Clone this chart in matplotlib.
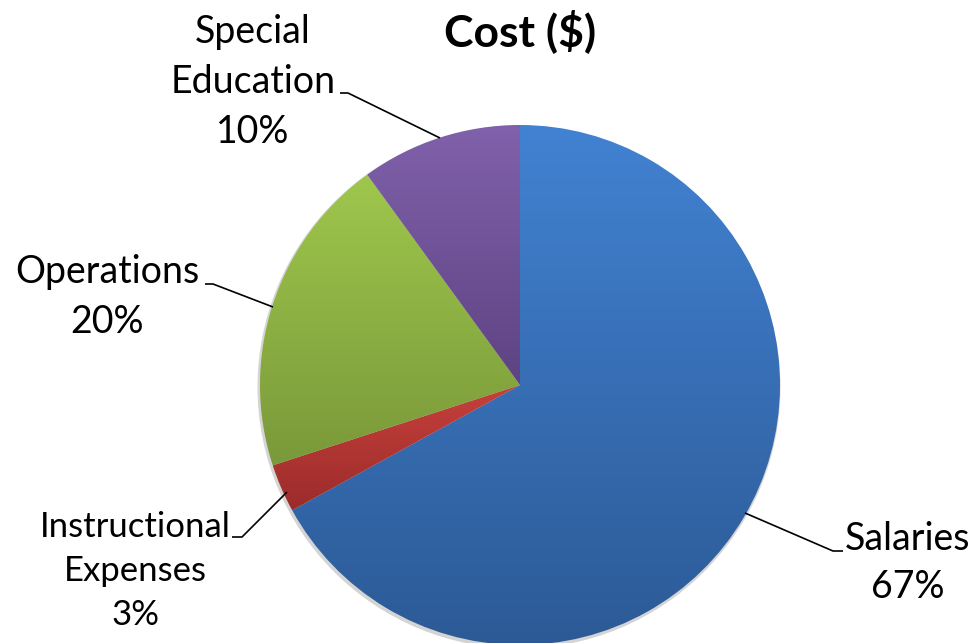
import numpy as np
import matplotlib
matplotlib.use("Agg")
import matplotlib.pyplot as plt
from matplotlib.colors import to_rgb
from matplotlib.patches import Circle

# ---- data ----
title = "Cost ($)"
categories = ["Salaries", "Instructional Expenses", "Operations", "Special Education"]
label_lines = [["Salaries"], ["Instructional", "Expenses"], ["Operations"], ["Special", "Education"]]
values = [67, 3, 20, 10]
top_colors = ["#4282d2", "#c8403c", "#9fc74c", "#8061ab"]
bottom_colors = ["#2c5a96", "#9a2c2a", "#7a993a", "#5e4382"]

W, H = 980, 643
fig = plt.figure(figsize=(W / 100, H / 100), dpi=100)
ax = fig.add_axes([0, 0, 1, 1])
FONT = "Lato"

def py(y):  # pixel row -> data y
    return H - y

cx, cy, R = 520, py(385), 260

# faint shadow
ax.add_patch(Circle((cx - 1, cy - 2), R + 1.5, facecolor="#d4d4d4", edgecolor="none", zorder=0))

wedges, _ = ax.pie(values, startangle=90, counterclock=False, center=(cx, cy),
                   radius=R, frame=True, wedgeprops=dict(linewidth=0, edgecolor="none"))

for w, ct, cb in zip(wedges, top_colors, bottom_colors):
    w.set_facecolor("none")
    ext = w.get_path().get_extents()
    t = np.linspace(0, 1, 256)[:, None, None]
    grad = np.array(to_rgb(cb))[None, None, :] * (1 - t) + np.array(to_rgb(ct))[None, None, :] * t
    im = ax.imshow(grad, extent=(ext.x0, ext.x1, ext.y0, ext.y1), origin="lower",
                   aspect="auto", interpolation="bilinear", zorder=1)
    im.set_clip_path(w)

# labels: (center x, first baseline, line spacing, font size)
label_pos = [(908, 550, 48, 27), (135, 537, 44, 25), (107, 283, 50, 27), (253, 43, 50, 27)]
for lines, v, (lx, ly, sp, fs) in zip(label_lines, values, label_pos):
    for i, s in enumerate(lines + [f"{v}%"]):
        ax.text(lx, py(ly + i * sp), s, ha="center", va="baseline",
                fontsize=fs, family=FONT, color="black", zorder=3)

# leader lines (pixel coords)
leaders = [
    [(745, 513), (833, 551), (843, 551)],
    [(287, 492), (242, 537), (232, 537)],
    [(273, 307), (213, 284), (205, 284)],
    [(440, 138), (348, 93), (340, 93)],
]
for pts in leaders:
    xs = [p[0] for p in pts]
    ys = [py(p[1]) for p in pts]
    ax.plot(xs, ys, color="black", lw=1.2, zorder=3, solid_capstyle="butt")

ax.text(520, py(46), title, ha="center", va="baseline", fontsize=32,
        fontweight="bold", family=FONT, color="black", zorder=3)

ax.set_xlim(0, W)
ax.set_ylim(0, H)
ax.set_aspect("equal")
ax.axis("off")
fig.savefig("out.png", dpi=100, facecolor="white")
